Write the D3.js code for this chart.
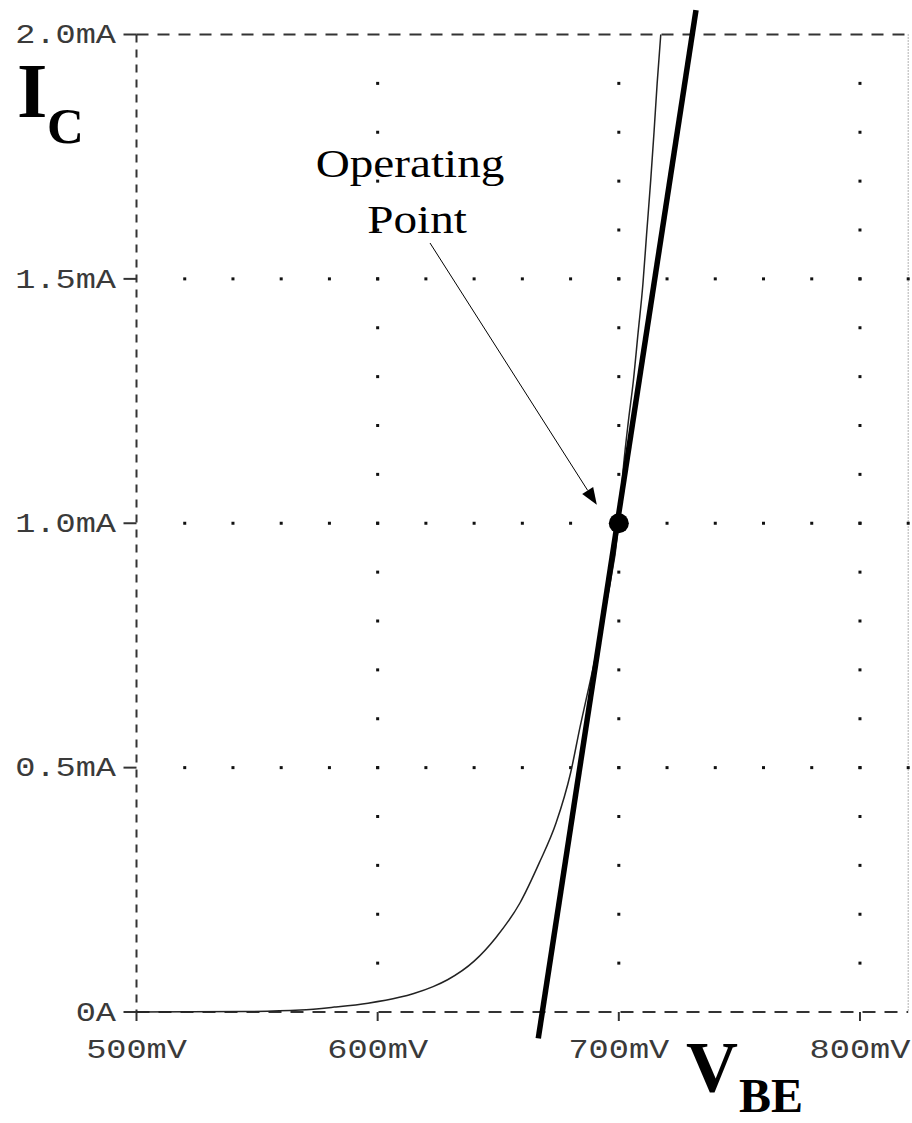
<!DOCTYPE html>
<html><head><meta charset="utf-8">
<script src="https://cdn.jsdelivr.net/npm/d3@7"></script>
<style>body{margin:0;background:#fff}svg{display:block}</style>
</head><body>
<svg id="chart" width="912" height="1123"></svg>
<script>
// ---- data ----
const vbe = [500, 545, 568, 582, 596, 609, 615, 623, 629, 640, 649, 659, 667, 674, 680, 684, 688, 691, 695, 700, 702, 704, 706, 708, 710, 711.5, 713.2, 714.6, 715.9, 717.4];
const ic  = [0, 0.001, 0.004, 0.010, 0.018, 0.030, 0.038, 0.052, 0.066, 0.104, 0.152, 0.223, 0.305, 0.387, 0.489, 0.585, 0.674, 0.742, 0.84, 1.0, 1.12, 1.21, 1.29, 1.39, 1.49, 1.59, 1.70, 1.80, 1.90, 2.0];
const tangentV = [666.6, 732.0];
const tangentI = [-0.054, 2.05];
const opV = 700, opI = 1.0;
const xTicks = [500, 600, 700, 800];
const xTickLabels = ["500mV", "600mV", "700mV", "800mV"];
const yTicks = [0, 0.5, 1.0, 1.5, 2.0];
const yTickLabels = ["0A", "0.5mA", "1.0mA", "1.5mA", "2.0mA"];
const xGrid = [600, 700, 800];
const yGrid = [0.5, 1.0, 1.5];
const xDotPos = [520, 540, 560, 580, 600, 620, 640, 660, 680, 700, 720, 740, 760, 780, 800, 820];
const yDotPos = [0.1, 0.2, 0.3, 0.4, 0.5, 0.6, 0.7, 0.8, 0.9, 1.0, 1.1, 1.2, 1.3, 1.4, 1.5, 1.6, 1.7, 1.8, 1.9];
const xDomain = [500, 820];
const yDomain = [0, 2];

// ---- drawing ----
const svg = d3.select("#chart");
const x = d3.scaleLinear().domain(xDomain).range([136.5, 908.2]);
const y = d3.scaleLinear().domain(yDomain).range([1012, 34.5]);
const x0 = x(xDomain[0]), x1 = x(xDomain[1]), y0 = y(yDomain[0]), y1 = y(yDomain[1]);

// frame
svg.append("line").attr("x1", x0).attr("x2", x1).attr("y1", y1).attr("y2", y1)
  .attr("stroke", "#333").attr("stroke-width", 2).attr("stroke-dasharray", "12 9");
svg.append("line").attr("x1", x0).attr("x2", x1).attr("y1", y0).attr("y2", y0)
  .attr("stroke", "#333").attr("stroke-width", 2).attr("stroke-dasharray", "13 9");
svg.append("line").attr("x1", x0).attr("x2", x0).attr("y1", y1).attr("y2", y0)
  .attr("stroke", "#333").attr("stroke-width", 2).attr("stroke-dasharray", "8 7");
svg.append("line").attr("x1", x1).attr("x2", x1).attr("y1", y1).attr("y2", y0)
  .attr("stroke", "#666").attr("stroke-width", 1).attr("stroke-dasharray", "1 2");

// dotted grid
const dots = [];
xGrid.forEach(v => yDotPos.forEach(i => dots.push([v, i])));
yGrid.forEach(i => xDotPos.forEach(v => dots.push([v, i])));
svg.append("g").selectAll("rect").data(dots).join("rect")
  .attr("x", d => x(d[0]) - 1.5).attr("y", d => y(d[1]) - 1.5)
  .attr("width", 3).attr("height", 3).attr("fill", "#111");

// ticks
svg.append("g").selectAll("line").data(yTicks).join("line")
  .attr("x1", x0 - 13).attr("x2", x0).attr("y1", d => y(d)).attr("y2", d => y(d))
  .attr("stroke", "#333").attr("stroke-width", 2);
svg.append("g").selectAll("line").data(xTicks).join("line")
  .attr("x1", d => x(d)).attr("x2", d => x(d)).attr("y1", y0).attr("y2", y0 + 9)
  .attr("stroke", "#333").attr("stroke-width", 2);

// tick labels
const monoStyle = s => s.attr("font-family", "'Liberation Mono', 'DejaVu Sans Mono', monospace")
  .attr("font-size", 28).attr("fill", "#3a3a3a");
svg.append("g").selectAll("text").data(yTicks).join("text")
  .call(monoStyle)
  .attr("text-anchor", "end").attr("dominant-baseline", "central")
  .attr("transform", d => `translate(116,${y(d) + 1}) scale(1.2,1)`)
  .text((d, i) => yTickLabels[i]);
svg.append("g").selectAll("text").data(xTicks).join("text")
  .call(monoStyle)
  .attr("text-anchor", "middle")
  .attr("transform", d => `translate(${x(d)},1058) scale(1.2,1)`)
  .text((d, i) => xTickLabels[i]);

// curve
const pts = vbe.map((v, i) => [v, ic[i]]);
svg.append("path").datum(pts)
  .attr("d", d3.line().x(d => x(d[0])).y(d => y(d[1])).curve(d3.curveMonotoneX))
  .attr("fill", "none").attr("stroke", "#222").attr("stroke-width", 1.5);

// tangent line
svg.append("line")
  .attr("x1", x(tangentV[0])).attr("y1", y(tangentI[0]))
  .attr("x2", x(tangentV[1])).attr("y2", y(tangentI[1]))
  .attr("stroke", "#000").attr("stroke-width", 5.5);

// operating point
svg.append("circle").attr("cx", x(opV)).attr("cy", y(opI)).attr("r", 10).attr("fill", "#000");

// annotation arrow
const tip = [x(opV) - 22, y(opI) - 18.5];
const tail = [430, 243];
const dx = tip[0] - tail[0], dy = tip[1] - tail[1], len = Math.hypot(dx, dy);
const ux = dx / len, uy = dy / len;
const hl = 17, hw = 6.5;
const bx = tip[0] - ux * hl, by = tip[1] - uy * hl;
svg.append("line").attr("x1", tail[0]).attr("y1", tail[1]).attr("x2", bx).attr("y2", by)
  .attr("stroke", "#000").attr("stroke-width", 1);
svg.append("polygon")
  .attr("points", [[tip[0], tip[1]], [bx - uy * hw, by + ux * hw], [bx + uy * hw, by - ux * hw]].map(p => p.join(",")).join(" "))
  .attr("fill", "#000");

// annotation text
const serif = "'Liberation Serif', 'Times New Roman', serif";
svg.append("text").attr("transform", "translate(410,177) scale(1.18,1)")
  .attr("text-anchor", "middle").attr("font-family", serif).attr("font-size", 40).text("Operating");
svg.append("text").attr("transform", "translate(417,233) scale(1.18,1)")
  .attr("text-anchor", "middle").attr("font-family", serif).attr("font-size", 40).text("Point");

// axis titles
const ttl = svg.append("g").attr("font-family", serif).attr("font-weight", "bold").attr("fill", "#000");
ttl.append("text").attr("x", 17).attr("y", 117).attr("font-size", 78).text("I");
ttl.append("text").attr("x", 47).attr("y", 143).attr("font-size", 51).text("C");
ttl.append("text").attr("x", 686).attr("y", 1091).attr("font-size", 72).text("V");
ttl.append("text").attr("x", 739).attr("y", 1112).attr("font-size", 48).text("BE");
</script>
</body></html>
